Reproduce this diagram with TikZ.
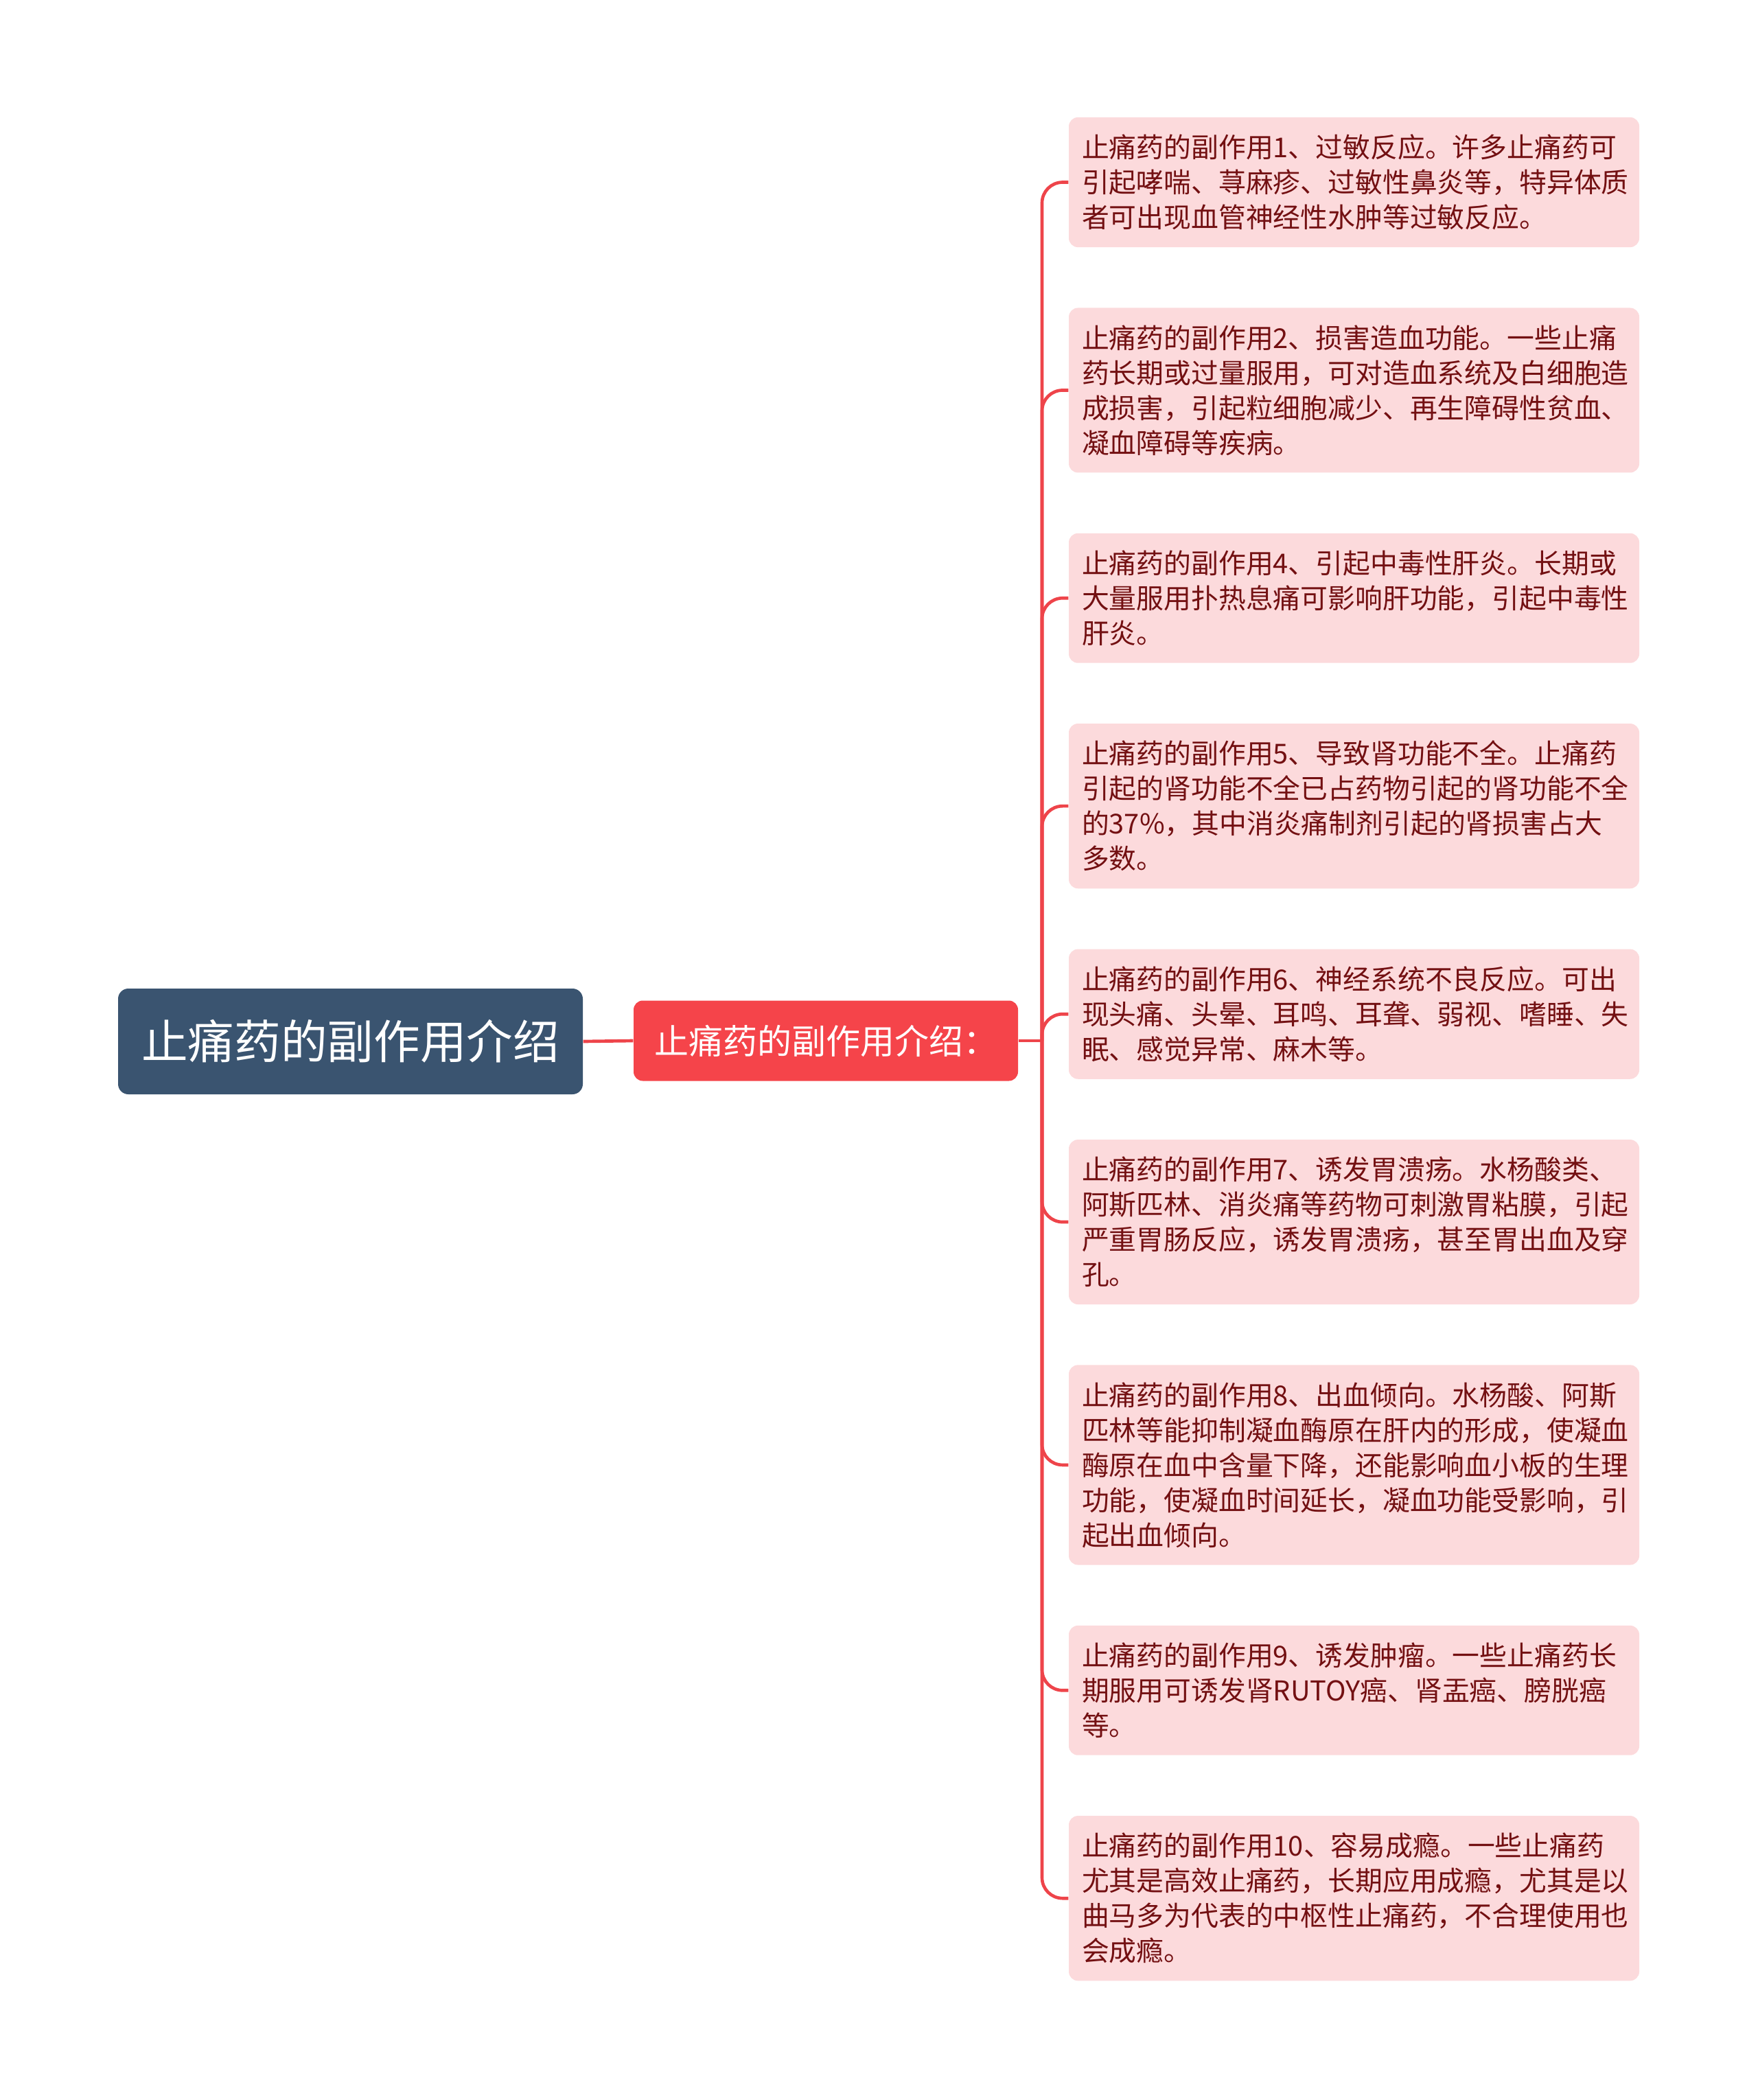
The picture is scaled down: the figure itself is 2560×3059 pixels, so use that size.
\documentclass[tikz,border=0pt]{standalone}
\usepackage{fontspec}
\setmainfont{Noto Sans CJK SC}
\usepackage{tikz}
\usetikzlibrary{positioning}
\definecolor{rootblue}{HTML}{3A5470}
\definecolor{midred}{HTML}{F5444A}
\definecolor{leafpink}{HTML}{FCDADC}
\definecolor{leaftext}{HTML}{731012}
\definecolor{linered}{HTML}{EE444A}

\begin{document}
\begin{tikzpicture}[x=0.3pt, y=-0.3pt,
        rootbox/.style={fill=rootblue, rounded corners=4.5pt, text=white, minimum width=203.1pt, minimum height=46.2pt, font=\fontsize{20.3pt}{24pt}\selectfont},
        midbox/.style={fill=midred, rounded corners=4pt, text=white, minimum width=168pt, minimum height=35.1pt, font=\fontsize{15pt}{18pt}\selectfont},
        leaf/.style={fill=leafpink, rounded corners=4pt, text=leaftext, text width=237.9pt, inner xsep=5.7pt, inner ysep=7.5pt, align=left, font=\fontsize{11.95pt}{15.3pt}\selectfont},
        branch/.style={draw=linered, line width=1.4pt},
        node distance=26.1pt]
    \useasboundingbox (0,0) rectangle (2560,3059);
    \node[rootbox] (root) at (510.5,1517) {止痛药的副作用介绍};
    \node[midbox] (mid) at (1203,1516) {止痛药的副作用介绍：};
    \coordinate (split) at (1518,1516);

    \node[leaf] (l1) at (1972.5,265.5) {止痛药的副作用1、过敏反应。许多止痛药可\\引起哮喘、荨麻疹、过敏性鼻炎等，特异体质\\者可出现血管神经性水肿等过敏反应。};
    \node[leaf, below=of l1] (l2) {止痛药的副作用2、损害造血功能。一些止痛\\药长期或过量服用，可对造血系统及白细胞造\\成损害，引起粒细胞减少、再生障碍性贫血、\\凝血障碍等疾病。};
    \node[leaf, below=of l2] (l4) {止痛药的副作用4、引起中毒性肝炎。长期或\\大量服用扑热息痛可影响肝功能，引起中毒性\\肝炎。};
    \node[leaf, below=of l4] (l5) {止痛药的副作用5、导致肾功能不全。止痛药\\引起的肾功能不全已占药物引起的肾功能不全\\的37\%，其中消炎痛制剂引起的肾损害占大\\多数。};
    \node[leaf, below=of l5] (l6) {止痛药的副作用6、神经系统不良反应。可出\\现头痛、头晕、耳鸣、耳聋、弱视、嗜睡、失\\眠、感觉异常、麻木等。};
    \node[leaf, below=of l6] (l7) {止痛药的副作用7、诱发胃溃疡。水杨酸类、\\阿斯匹林、消炎痛等药物可刺激胃粘膜，引起\\严重胃肠反应，诱发胃溃疡，甚至胃出血及穿\\孔。};
    \node[leaf, below=of l7] (l8) {止痛药的副作用8、出血倾向。水杨酸、阿斯\\匹林等能抑制凝血酶原在肝内的形成，使凝血\\酶原在血中含量下降，还能影响血小板的生理\\功能，使凝血时间延长，凝血功能受影响，引\\起出血倾向。};
    \node[leaf, below=of l8] (l9) {止痛药的副作用9、诱发肿瘤。一些止痛药长\\期服用可诱发肾RUTOY癌、肾盂癌、膀胱癌\\等。};
    \node[leaf, below=of l9] (l10) {止痛药的副作用10、容易成瘾。一些止痛药\\尤其是高效止痛药，长期应用成瘾，尤其是以\\曲马多为代表的中枢性止痛药，不合理使用也\\会成瘾。};

    \draw[branch] (root.east) -- (mid.west);
    \draw[branch] (mid.east) -- (split);
    \foreach \n in {l1,l2,l4,l5,l6,l7,l8,l9,l10}
        \draw[branch, rounded corners=9pt] (split) |- (\n.west);
\end{tikzpicture}
\end{document}
